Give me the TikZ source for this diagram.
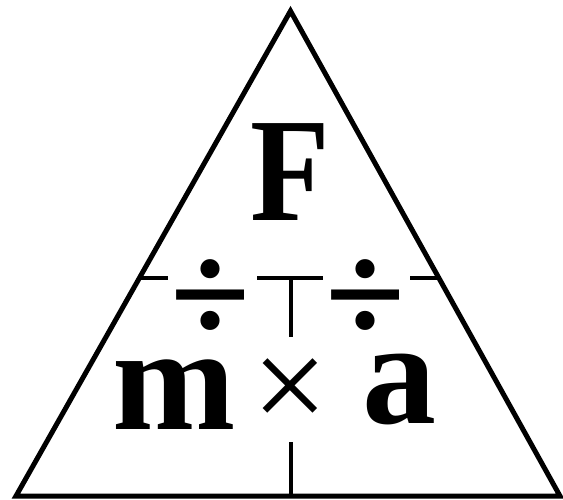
\documentclass[tikz,border=0pt]{standalone}
\usepackage{fontspec}
\setmainfont{Liberation Serif}
\usetikzlibrary{calc}
\begin{document}
\begin{tikzpicture}[x=1pt,y=-1pt,
  edge/.style={line width=5pt,line join=miter},
  divider/.style={line width=3.4pt},
  big/.style={inner sep=0pt,font=\fontsize{148}{148}\selectfont\bfseries},
  divop/.style={inner sep=0pt,font=\fontsize{146}{146}\selectfont\bfseries},
  timesop/.style={inner sep=0pt,font=\fontsize{134}{134}\selectfont}]
\useasboundingbox (0,0) rectangle (563,499);
% triangle
\coordinate (apex) at (290.5,11);
\coordinate (bl) at (16,496);
\coordinate (br) at (560,496);
\draw[edge] (apex) -- (br) -- (bl) -- cycle;
% divider line pieces
\coordinate (dl1) at ($(apex)!0.5515!(bl)$);
\coordinate (dl2) at (168,278);
\coordinate (dm1) at (257,278);
\coordinate (dm2) at (323,278);
\coordinate (dmc) at (291,278);
\coordinate (dmb) at (291,337);
\coordinate (dr1) at (410,278);
\coordinate (dr2) at ($(apex)!0.5515!(br)$);
\coordinate (bt) at (291,442);
\coordinate (bb) at (291,496);
\draw[divider] (dl1 |- dl2) -- (dl2);
\draw[divider] (dm1) -- (dm2);
\draw[divider] (dmc) -- (dmb);
\draw[divider] (dr1) -- (dr2 |- dr1);
\draw[divider] (bt) -- (bb);
% texts
\node[big,anchor=base,xscale=0.88] (F) at (290.5,220) {F};
\node[big,anchor=base] (m) at (174,429) {m};
\node[big,anchor=base] (a) at (399,423) {a};
\node[timesop] (times) at (290,395) {×};
\node[divop] (divl) at (211,302) {÷};
\node[divop] (divr) at (366,302) {÷};
\end{tikzpicture}
\end{document}
